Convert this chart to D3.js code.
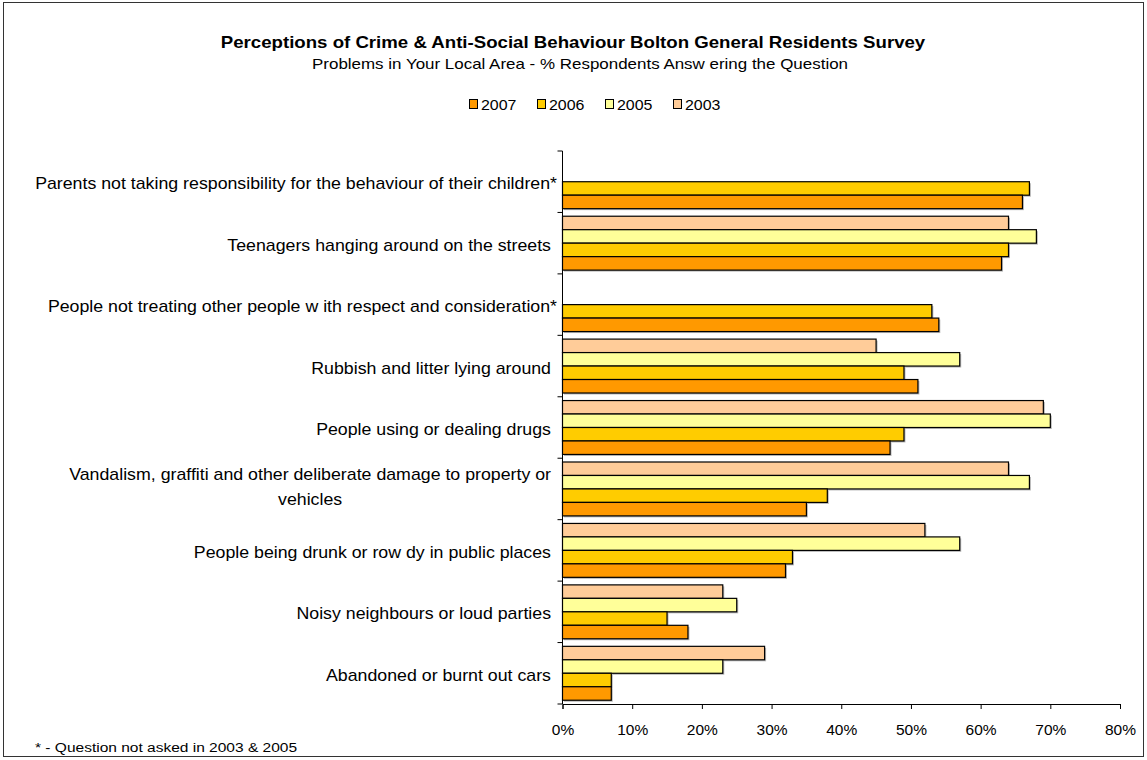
<!DOCTYPE html>
<html>
<head>
<meta charset="utf-8">
<script src="https://cdn.jsdelivr.net/npm/d3@7"></script>
<style>
  html, body { margin: 0; padding: 0; background: #fff; }
  svg { display: block; font-family: "Liberation Sans", Arial, sans-serif; }
</style>
</head>
<body>
<svg id="chart" width="1147" height="760"></svg>
<script>
// Survey questions (top to bottom)
const categories = [
  "Parents not taking responsibility for the behaviour of their children*",
  "Teenagers hanging around on the streets",
  "People not treating other people w ith respect and consideration*",
  "Rubbish and litter lying around",
  "People using or dealing drugs",
  "Vandalism, graffiti and other deliberate damage to property or vehicles",
  "People being drunk or row dy in public places",
  "Noisy neighbours or loud parties",
  "Abandoned or burnt out cars"
];

// Percentage of respondents per year (null = question not asked)
const values2003 = [null, 64, null, 45, 69, 64, 52, 23, 29];
const values2005 = [null, 68, null, 57, 70, 67, 57, 25, 23];
const values2006 = [67, 64, 53, 49, 49, 38, 33, 15, 7];
const values2007 = [66, 63, 54, 51, 47, 35, 32, 18, 7];

const legendYears = ["2007", "2006", "2005", "2003"];
const barOrder = ["2003", "2005", "2006", "2007"]; // within each group, top to bottom
const xTicks = [0, 10, 20, 30, 40, 50, 60, 70, 80];

const seriesValues = { "2003": values2003, "2005": values2005, "2006": values2006, "2007": values2007 };
const colors = { "2007": "#FF9900", "2006": "#FFCC00", "2005": "#FFFF99", "2003": "#FFCC99" };

const svg = d3.select("#chart");

// Text with a slight horizontal stretch (wide Arial-style rendering)
function wideText(parent, x, y, str, opts) {
  const g = parent.append("g").attr("transform", `translate(${x},${y}) scale(${opts.sx || 1},1)`);
  return g.append("text")
    .attr("x", 0).attr("y", 0)
    .attr("text-anchor", opts.anchor || "start")
    .attr("font-size", opts.size)
    .attr("font-weight", opts.weight || "normal")
    .attr("fill", "#000")
    .text(str);
}

// Outer chart frame
svg.append("rect")
  .attr("x", 3.5).attr("y", 2.5).attr("width", 1140).attr("height", 754)
  .attr("fill", "#fff").attr("stroke", "#333").attr("stroke-width", 1);

// Titles
wideText(svg, 573, 48, "Perceptions of Crime & Anti-Social Behaviour Bolton General Residents Survey",
  { anchor: "middle", size: 16.5, weight: "bold", sx: 1.13 });
wideText(svg, 580, 69, "Problems in Your Local Area - % Respondents Answ ering the Question",
  { anchor: "middle", size: 15, sx: 1.13 });

// Legend
const legendX0 = 469, legendStep = 68, legendY = 104;
legendYears.forEach((yr, i) => {
  const g = svg.append("g").attr("transform", `translate(${legendX0 + i * legendStep},${legendY})`);
  g.append("rect").attr("x", 0.5).attr("y", -4.5).attr("width", 8).attr("height", 9)
    .attr("fill", colors[yr]).attr("stroke", "#000").attr("stroke-width", 1);
  wideText(g, 12, 5.5, yr, { size: 15.5, sx: 1.03 });
});

// Plot area
const plotLeft = 562.5, plotRight = 1120, plotTop = 151, plotBottom = 704;

const x = d3.scaleLinear().domain([0, 80]).range([plotLeft, plotRight]);
const y0 = d3.scaleBand().domain(categories).range([plotTop, plotBottom]).padding(0);
const y1 = d3.scaleBand().domain(barOrder).range([0, y0.bandwidth()]).paddingInner(0).paddingOuter(0.28);

const rows = [];
categories.forEach((c, i) => {
  barOrder.forEach(yr => {
    const v = seriesValues[yr][i];
    if (v !== null) rows.push({ cat: c, year: yr, value: v });
  });
});

const bars = svg.append("g");
// soft drop shadow behind bars
bars.selectAll("rect.shadow").data(rows).join("rect")
  .attr("class", "shadow")
  .attr("x", x(0) + 1.5)
  .attr("y", d => y0(d.cat) + y1(d.year) + 1.5)
  .attr("width", d => x(d.value) - x(0))
  .attr("height", y1.bandwidth())
  .attr("fill", "#b8b8b8");
bars.selectAll("rect.bar").data(rows).join("rect")
  .attr("class", "bar")
  .attr("x", x(0))
  .attr("y", d => y0(d.cat) + y1(d.year))
  .attr("width", d => x(d.value) - x(0))
  .attr("height", y1.bandwidth())
  .attr("fill", d => colors[d.year])
  .attr("stroke", "#000").attr("stroke-width", 1.2);

// X axis
const xAxis = d3.axisBottom(x).tickValues(xTicks).tickFormat(d => d + "%").tickSizeOuter(0).tickSize(5);
const gx = svg.append("g").attr("transform", `translate(0,${plotBottom})`).call(xAxis);
gx.select(".domain").attr("stroke", "#000");
gx.selectAll(".tick line").attr("stroke", "#000");
gx.selectAll(".tick text").attr("font-size", 15.5).attr("fill", "#000")
  .attr("font-family", "Liberation Sans, Arial, sans-serif").attr("dy", "22.5px");

// Y axis line with ticks at category boundaries
const gy = svg.append("g");
gy.append("line").attr("x1", plotLeft).attr("x2", plotLeft).attr("y1", plotTop).attr("y2", plotBottom)
  .attr("stroke", "#000");
const boundaries = categories.map(c => y0(c)).concat([plotBottom]);
gy.selectAll("line.tk").data(boundaries).join("line")
  .attr("class", "tk")
  .attr("x1", plotLeft - 5).attr("x2", plotLeft).attr("y1", d => d).attr("y2", d => d)
  .attr("stroke", "#000");

// Category labels (right aligned, long label wrapped onto two centred lines)
const labelRight = 551, labelSize = 16, labelSx = 1.11;
const labels = svg.append("g");
categories.forEach(c => {
  const cy = y0(c) + y0.bandwidth() / 2;
  if (c.startsWith("Vandalism")) {
    const l1 = "Vandalism, graffiti and other deliberate damage to property or";
    const l2 = "vehicles";
    const t1 = wideText(labels, labelRight, cy - 8.5, l1, { anchor: "end", size: labelSize, sx: labelSx });
    const w = t1.node().getComputedTextLength() * labelSx;
    wideText(labels, labelRight - w / 2, cy + 16.5, l2, { anchor: "middle", size: labelSize, sx: labelSx });
  } else {
    const rx = c.endsWith("*") ? labelRight + 6 : labelRight;
    wideText(labels, rx, cy + 7.5, c, { anchor: "end", size: labelSize, sx: labelSx });
  }
});

// Footnote
wideText(svg, 35, 752, "* - Question not asked in 2003 & 2005", { size: 13.5, sx: 1.15 });
</script>
</body>
</html>
